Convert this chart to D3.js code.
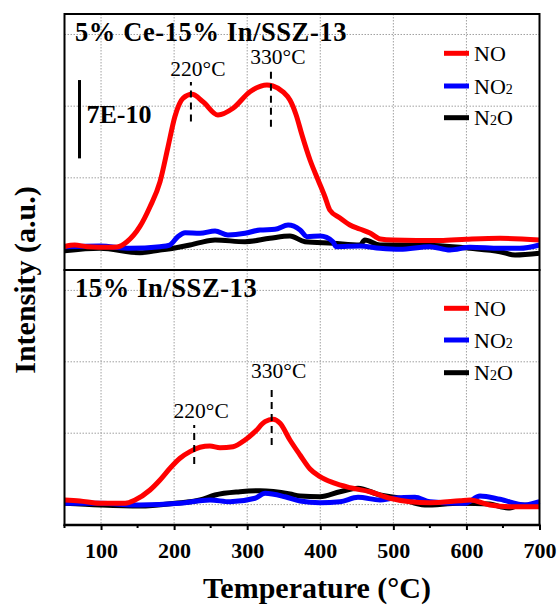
<!DOCTYPE html>
<html><head><meta charset="utf-8">
<script src="https://cdn.jsdelivr.net/npm/d3@7"></script>
<style>body{margin:0;background:#fff}</style>
</head><body>
<svg id="c" width="558" height="608"></svg>
<script>
// ---------- DATA (temperature °C, intensity in 1E-10 a.u.) ----------
const xTicks = [100, 200, 300, 400, 500, 600, 700];
const yGrid = [0, 7, 14, 21];
const seriesNames = ["NO", "NO2", "N2O"];
const panelTitles = ["5% Ce-15% In/SSZ-13", "15% In/SSZ-13"];

const topNO = [[50,0.3],[64,0.44],[81,0.28],[112,0.22],[122,0.25],[135.5,0.76],[153,2.23],[167,4.18],[180.7,6.62],[191.6,10.0],[201,12.97],[212,14.77],[224.5,15.16],[239.5,14.44],[260,13.14],[280.6,13.79],[303.8,15.41],[327,16.07],[335,15.97],[349,15.4],[358.5,14.6],[367,13.14],[375,11.18],[386,8.74],[397,6.79],[406.5,5.13],[413,3.86],[427,3.08],[440.6,2.39],[454,2.0],[468,1.61],[482,1.03],[499.5,0.93],[564,0.88],[599.5,1.0],[646,1.1],[700,0.93]];
const topNO2 = [[50,0.28],[98.6,0.34],[139.6,0.12],[180.7,0.28],[194,0.44],[205,1.25],[215,1.64],[235.4,1.58],[256,1.81],[273.7,1.42],[297,1.58],[317.5,1.91],[338,1.97],[356,2.39],[372.4,1.91],[382,1.25],[400,1.32],[417.4,0.76],[421.5,0.28],[454.3,0.34],[481.7,0.12],[509,0.02],[550,0.28],[577.5,-0.05],[605,0.22],[646,0.12],[673,0.12],[700,0.44]];
const topN2O = [[50,-0.12],[98.6,0.12],[153,-0.31],[180.7,-0.05],[201,0.15],[221.7,0.44],[235,0.67],[256,0.93],[297,0.76],[331,1.10],[358.5,1.32],[379,0.76],[417.4,0.61],[454.3,0.44],[461,0.93],[481.7,0.44],[536,0.44],[605,0.12],[646,-0.21],[666.5,-0.54],[700,-0.37]];

const botNO = [[50,0.45],[71,0.35],[98.6,0.13],[133,0.13],[146.5,0.45],[167,1.43],[180.7,2.41],[194.4,3.56],[208,4.54],[221.7,5.19],[235.4,5.62],[249,5.75],[262.8,5.58],[280.6,5.68],[297,6.33],[310.7,7.15],[324.4,8.13],[335.4,8.36],[345,7.97],[358.5,6.33],[372.3,4.86],[386,3.49],[399.6,2.74],[417.4,2.15],[440.6,1.66],[468,1.26],[495.4,0.62],[522.8,0.28],[550,0.19],[591,0.38],[605,0.45],[632,-0.04],[659.6,-0.2],[700,-0.2]];
const botNO2 = [[50,0.13],[98.6,0.13],[153,-0.04],[208,0.13],[249,0.45],[276.5,0.28],[310.7,0.62],[324.4,1.11],[351.7,0.77],[372.3,0.35],[399.6,0.19],[427,0.28],[451.6,0.72],[481.7,0.45],[499.5,0.62],[529.6,0.72],[550,0.28],[598,0.13],[618.6,0.84],[646,0.52],[680,-0.04],[700,0.28]];
const botN2O = [[50,0.13],[98.6,-0.04],[153,-0.14],[201,0.13],[235.4,0.45],[256,0.94],[290,1.26],[317.5,1.36],[358.5,1.04],[372.3,0.84],[399.6,0.77],[427,1.26],[451.6,1.6],[481.7,0.94],[509,0.62],[543,-0.04],[591,0.13],[632,0.06],[646,-0.2],[659.6,-0.33],[673.5,-0.04],[700,-0.14]];

// peak markers: [temperature, label, line from, line to, label value]
const topPeaks = [[223, "220°C", 12.5, 16.37, 16.95], [332.5, "330°C", 12.0, 17.7, 18.1]];
const botPeaks = [[227.5, "220°C", 3.98, 7.8, 8.49], [333.5, "330°C", 5.84, 11.73, 12.41]];
const scaleBar = [8.9, 16.55];
const scaleLabel = "7E-10";

// ---------- DRAW ----------
const svg = d3.select("#c");
const L = 64.5, R = 539.5;
const serif = "'Liberation Serif','Times New Roman',serif";
const colors = {NO: "#ff0000", NO2: "#0000ff", N2O: "#000000"};
const x = d3.scaleLinear().domain([50, 700]).range([L, R]);

const panels = [
  {top: 14, bottom: 270, data: {NO: topNO, NO2: topNO2, N2O: topN2O}, peaks: topPeaks, title: panelTitles[0], bar: true},
  {top: 270, bottom: 525, data: {NO: botNO, NO2: botNO2, N2O: botN2O}, peaks: botPeaks, title: panelTitles[1], bar: false}
];

panels.forEach((p, pi) => {
  const y = d3.scaleLinear().domain([-2, 23]).range([p.bottom, p.top]);
  const g = svg.append("g");
  // grid
  g.selectAll(".vg").data(xTicks.filter(t => t < 700)).enter().append("line")
    .attr("x1", d => x(d)).attr("x2", d => x(d)).attr("y1", p.top).attr("y2", p.bottom)
    .attr("stroke", "#a0a0a0").attr("stroke-width", 1).attr("stroke-dasharray", "1.5,1.5");
  g.selectAll(".hg").data(yGrid).enter().append("line")
    .attr("x1", L).attr("x2", R).attr("y1", d => y(d)).attr("y2", d => y(d))
    .attr("stroke", "#a0a0a0").attr("stroke-width", 1).attr("stroke-dasharray", "1.5,1.5");

  const line = d3.line().x(d => x(d[0])).y(d => y(d[1])).curve(d3.curveMonotoneX);
  ["N2O", "NO2", "NO"].forEach(k => {
    g.append("path").datum(p.data[k]).attr("d", line).attr("fill", "none")
      .attr("stroke", colors[k]).attr("stroke-width", 5).attr("stroke-linejoin", "round");
  });

  // peak markers
  p.peaks.forEach(pk => {
    g.append("line").attr("x1", x(pk[0])).attr("x2", x(pk[0]))
      .attr("y1", y(pk[2])).attr("y2", y(pk[3]))
      .attr("stroke", "#000").attr("stroke-width", 2).attr("stroke-dasharray", "7,5");
    g.append("text").attr("x", x(pk[0]) + 7).attr("y", y(pk[4]))
      .attr("text-anchor", "middle").attr("font-family", serif).attr("font-size", 21.5)
      .text(pk[1]);
  });

  // title
  g.append("text").attr("x", 75).attr("y", p.top + (pi === 0 ? 26.5 : 27))
    .attr("font-family", serif).attr("font-weight", "bold").attr("font-size", 26.5)
    .attr("letter-spacing", 0.6)
    .text(p.title);

  // legend
  const legY = pi === 0 ? [53.3, 86, 117.7] : [308.3, 340, 372.7];
  seriesNames.forEach((s, i) => {
    g.append("line").attr("x1", 444).attr("x2", 469).attr("y1", legY[i]).attr("y2", legY[i])
      .attr("stroke", colors[s]).attr("stroke-width", 5);
    const t = g.append("text").attr("x", 474).attr("y", legY[i] + 7.5)
      .attr("font-family", serif).attr("font-size", 22);
    if (s === "NO") t.text("NO");
    else if (s === "NO2") { t.append("tspan").text("NO"); t.append("tspan").attr("font-size", 14).text("2"); }
    else { t.append("tspan").text("N"); t.append("tspan").attr("font-size", 14).text("2"); t.append("tspan").text("O"); }
  });

  // scale bar
  if (p.bar) {
    g.append("line").attr("x1", 79.5).attr("x2", 79.5).attr("y1", y(scaleBar[0])).attr("y2", y(scaleBar[1]))
      .attr("stroke", "#000").attr("stroke-width", 3);
    g.append("text").attr("x", 86.5).attr("y", 122.5).attr("font-family", serif)
      .attr("font-weight", "bold").attr("font-size", 26).text(scaleLabel);
  }

  // frame
  g.append("rect").attr("x", L).attr("y", p.top).attr("width", R - L).attr("height", p.bottom - p.top)
    .attr("fill", "none").attr("stroke", "#000").attr("stroke-width", 2);
});

// bottom axis
const ax = svg.append("g").attr("transform", "translate(0,525)");
ax.call(d3.axisBottom(x).tickValues(xTicks).tickSize(5).tickPadding(12).tickFormat(d3.format("d")))
  .call(a => a.select(".domain").remove());
ax.selectAll("text").attr("font-family", serif).attr("font-weight", "bold").attr("font-size", 22).attr("fill", "#000");
ax.selectAll("line").attr("stroke-width", 2);
ax.selectAll(".minor").data(d3.range(50, 700, 100)).enter().append("line").attr("class", "minor")
  .attr("x1", d => x(d)).attr("x2", d => x(d)).attr("y1", 0).attr("y2", 3).attr("stroke", "#000").attr("stroke-width", 2);
svg.append("line").attr("x1", L - 1).attr("x2", R + 1).attr("y1", 525).attr("y2", 525).attr("stroke", "#000").attr("stroke-width", 2.5);

// axis titles
svg.append("text").attr("x", (L + R) / 2 + 15).attr("y", 598).attr("text-anchor", "middle")
  .attr("font-family", serif).attr("font-weight", "bold").attr("font-size", 30).text("Temperature (°C)");
svg.append("text").attr("transform", "translate(35,280) rotate(-90)").attr("text-anchor", "middle")
  .attr("font-family", serif).attr("font-weight", "bold").attr("font-size", 30).text("Intensity (a.u.)");
</script>
</body></html>
